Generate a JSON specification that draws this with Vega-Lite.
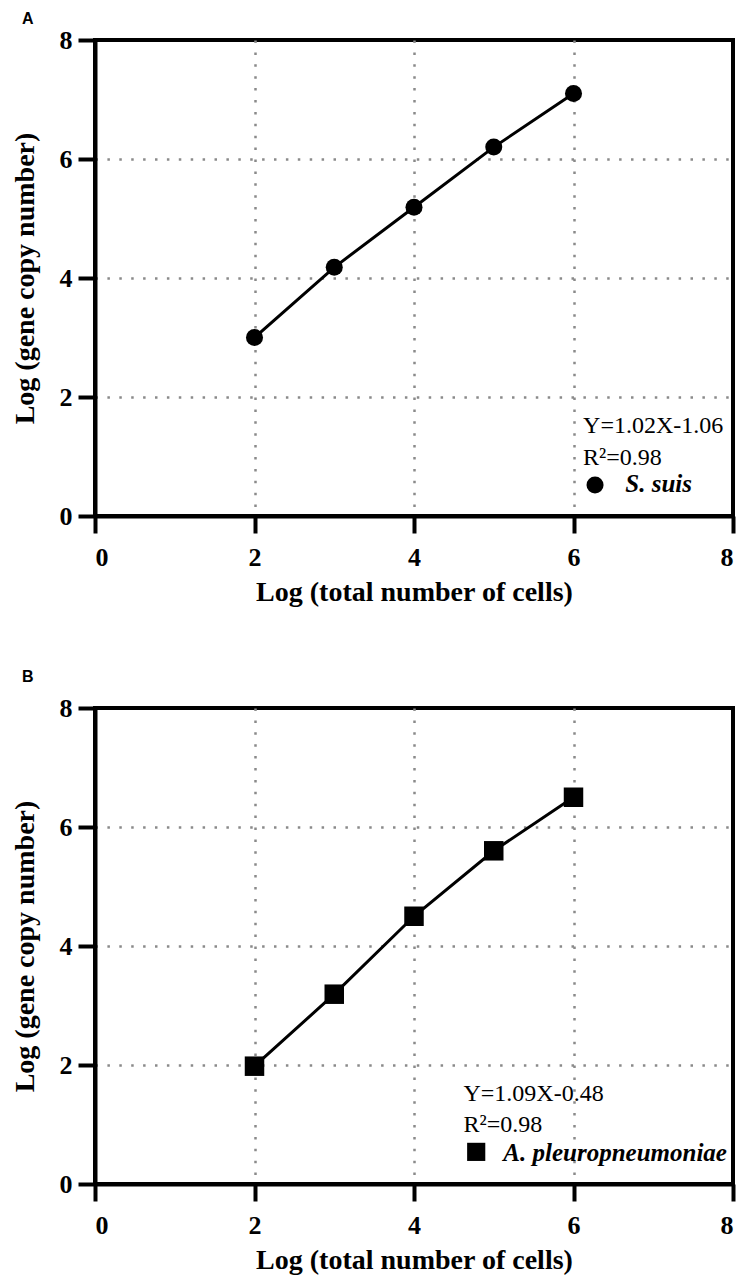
{
  "$schema": "https://vega.github.io/schema/vega-lite/v6.json",
  "background": "white",
  "padding": {"left": 9, "top": 9, "right": 5, "bottom": 2},
  "datasets": {
    "ssuis": [
      {"logCells": 2, "logCopies": 3.0},
      {"logCells": 3, "logCopies": 4.18},
      {"logCells": 4, "logCopies": 5.19},
      {"logCells": 5, "logCopies": 6.2},
      {"logCells": 6, "logCopies": 7.1}
    ],
    "app": [
      {"logCells": 2, "logCopies": 1.98},
      {"logCells": 3, "logCopies": 3.19},
      {"logCells": 4, "logCopies": 4.5},
      {"logCells": 5, "logCopies": 5.6},
      {"logCells": 6, "logCopies": 6.5}
    ],
    "ssuisNotes": [
      {"ax": 6.12, "ay": 1.39, "label": "Y=1.02X-1.06"},
      {"ax": 6.12, "ay": 0.86, "label": "R²=0.98"}
    ],
    "ssuisLegend": [{"ax": 6.27, "ay": 0.52, "tx": 6.65, "ty": 0.4, "label": "S. suis"}],
    "appNotes": [
      {"ax": 4.62, "ay": 1.395, "label": "Y=1.09X-0.48"},
      {"ax": 4.62, "ay": 0.874, "label": "R²=0.98"}
    ],
    "appLegend": [{"ax": 4.78, "ay": 0.54, "tx": 5.12, "ty": 0.39, "label": "A. pleuropneumoniae"}]
  },
  "config": {
    "view": {"stroke": "black", "strokeWidth": 4},
    "axis": {
      "domainColor": "black", "domainWidth": 4,
      "tickColor": "black", "tickWidth": 4, "tickSize": 17,
      "labelFont": "Liberation Serif", "labelFontSize": 26, "labelFontWeight": "bold", "labelColor": "black",
      "titleFont": "Liberation Serif", "titleFontSize": 28, "titleFontWeight": "bold", "titleColor": "black",
      "gridColor": "#8a8a8a", "gridDash": [2.5, 9.4], "gridWidth": 2.5,
      "gridOpacity": {"condition": {"test": "datum.value == 0 || datum.value == 8", "value": 0}, "value": 1},
      "format": "d"
    },
    "title": {"font": "Liberation Sans", "fontSize": 16, "fontWeight": "bold", "color": "black", "anchor": "start", "frame": "group", "offset": -2}
  },
  "spacing": 59,
  "vconcat": [
    {
      "width": 638, "height": 476,
      "title": {"text": "A", "dx": -73, "dy": -2},
      "layer": [
        {
          "data": {"name": "ssuis"},
          "mark": {"type": "line", "color": "black", "strokeWidth": 3},
          "encoding": {
            "x": {"field": "logCells", "type": "quantitative", "scale": {"domain": [0, 8], "nice": false}, "axis": {"values": [0, 2, 4, 6, 8], "title": "Log (total number of cells)", "labelPadding": 11, "titlePadding": 8}},
            "y": {"field": "logCopies", "type": "quantitative", "scale": {"domain": [0, 8], "nice": false}, "axis": {"values": [0, 2, 4, 6, 8], "title": "Log (gene copy number)", "labelPadding": 6, "titlePadding": 20}}
          }
        },
        {
          "data": {"name": "ssuis"},
          "mark": {"type": "point", "shape": "circle", "filled": true, "color": "black", "size": 290, "opacity": 1},
          "encoding": {
            "x": {"field": "logCells", "type": "quantitative"},
            "y": {"field": "logCopies", "type": "quantitative"}
          }
        },
        {
          "data": {"name": "ssuisNotes"},
          "mark": {"type": "text", "font": "Liberation Serif", "fontSize": 24, "align": "left", "baseline": "alphabetic", "color": "black"},
          "encoding": {
            "x": {"field": "ax", "type": "quantitative"},
            "y": {"field": "ay", "type": "quantitative"},
            "text": {"field": "label"}
          }
        },
        {
          "data": {"name": "ssuisLegend"},
          "mark": {"type": "point", "shape": "circle", "filled": true, "color": "black", "size": 290, "opacity": 1},
          "encoding": {
            "x": {"field": "ax", "type": "quantitative"},
            "y": {"field": "ay", "type": "quantitative"}
          }
        },
        {
          "data": {"name": "ssuisLegend"},
          "mark": {"type": "text", "font": "Liberation Serif", "fontSize": 25, "fontWeight": "bold", "fontStyle": "italic", "align": "left", "baseline": "alphabetic", "color": "black"},
          "encoding": {
            "x": {"field": "tx", "type": "quantitative"},
            "y": {"field": "ty", "type": "quantitative"},
            "text": {"field": "label"}
          }
        }
      ]
    },
    {
      "width": 638, "height": 476,
      "title": {"text": "B", "dx": -73, "dy": -12},
      "layer": [
        {
          "data": {"name": "app"},
          "mark": {"type": "line", "color": "black", "strokeWidth": 3},
          "encoding": {
            "x": {"field": "logCells", "type": "quantitative", "scale": {"domain": [0, 8], "nice": false}, "axis": {"values": [0, 2, 4, 6, 8], "title": "Log (total number of cells)", "labelPadding": 11, "titlePadding": 8}},
            "y": {"field": "logCopies", "type": "quantitative", "scale": {"domain": [0, 8], "nice": false}, "axis": {"values": [0, 2, 4, 6, 8], "title": "Log (gene copy number)", "labelPadding": 6, "titlePadding": 20}}
          }
        },
        {
          "data": {"name": "app"},
          "mark": {"type": "point", "shape": "square", "filled": true, "color": "black", "size": 380, "opacity": 1},
          "encoding": {
            "x": {"field": "logCells", "type": "quantitative"},
            "y": {"field": "logCopies", "type": "quantitative"}
          }
        },
        {
          "data": {"name": "appNotes"},
          "mark": {"type": "text", "font": "Liberation Serif", "fontSize": 24, "align": "left", "baseline": "alphabetic", "color": "black"},
          "encoding": {
            "x": {"field": "ax", "type": "quantitative"},
            "y": {"field": "ay", "type": "quantitative"},
            "text": {"field": "label"}
          }
        },
        {
          "data": {"name": "appLegend"},
          "mark": {"type": "point", "shape": "square", "filled": true, "color": "black", "size": 330, "opacity": 1},
          "encoding": {
            "x": {"field": "ax", "type": "quantitative"},
            "y": {"field": "ay", "type": "quantitative"}
          }
        },
        {
          "data": {"name": "appLegend"},
          "mark": {"type": "text", "font": "Liberation Serif", "fontSize": 25, "fontWeight": "bold", "fontStyle": "italic", "align": "left", "baseline": "alphabetic", "color": "black"},
          "encoding": {
            "x": {"field": "tx", "type": "quantitative"},
            "y": {"field": "ty", "type": "quantitative"},
            "text": {"field": "label"}
          }
        }
      ]
    }
  ]
}
